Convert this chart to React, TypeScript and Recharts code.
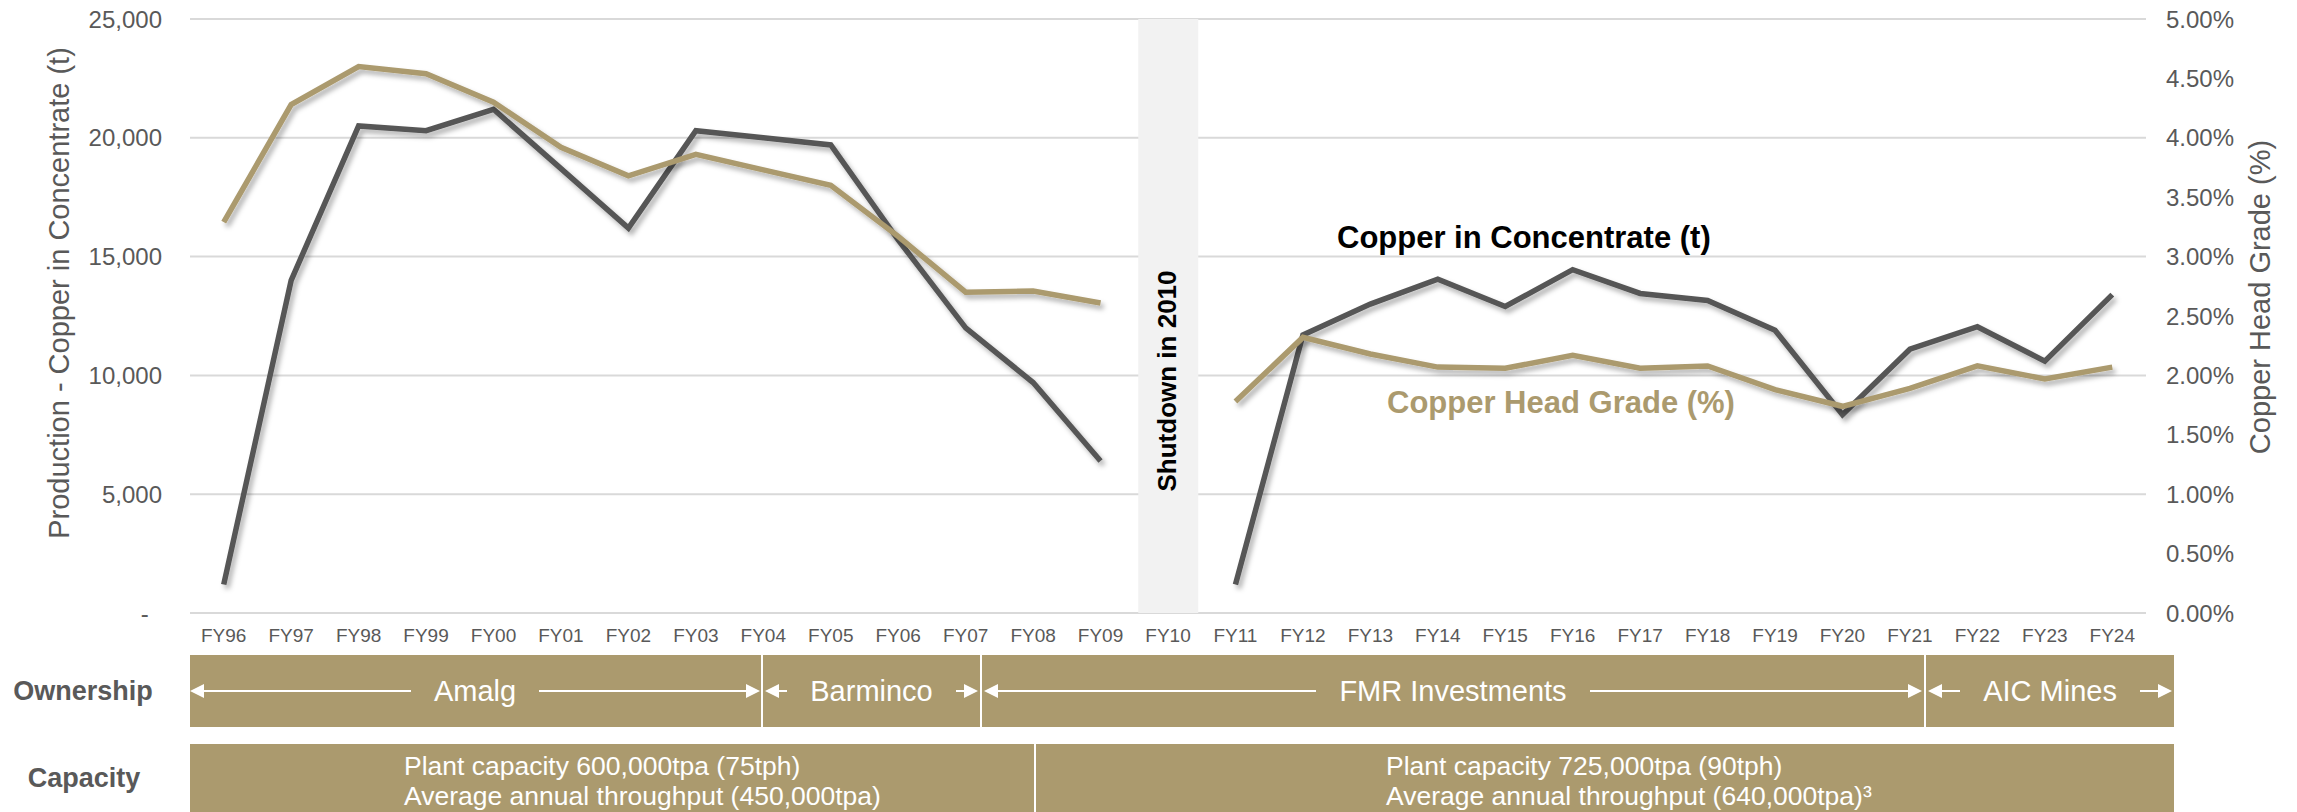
import { Bar, CartesianGrid, ComposedChart, Line, XAxis, YAxis } from "recharts";

// Copper production history, FY96–FY24 (plant shut in FY10)

const YEARS = [
  "FY96", "FY97", "FY98", "FY99", "FY00", "FY01", "FY02", "FY03", "FY04", "FY05",
  "FY06", "FY07", "FY08", "FY09", "FY10", "FY11", "FY12", "FY13", "FY14", "FY15",
  "FY16", "FY17", "FY18", "FY19", "FY20", "FY21", "FY22", "FY23", "FY24",
];

// tonnes of copper in concentrate
const COPPER_T = [
  1200, 14000, 20500, 20300, 21200, 18700, 16200, 20300, 20000, 19700,
  15700, 12000, 9700, 6400, null, 1200, 11700, 13000, 14050, 12900,
  14450, 13450, 13150, 11900, 8350, 11100, 12050, 10600, 13400,
];

// head grade, %
const HEAD_GRADE = [
  3.29, 4.28, 4.6, 4.54, 4.3, 3.92, 3.68, 3.86, 3.73, 3.6,
  3.17, 2.7, 2.71, 2.61, null, 1.78, 2.32, 2.18, 2.07, 2.06,
  2.17, 2.06, 2.08, 1.88, 1.74, 1.89, 2.08, 1.97, 2.07,
];

const SHUTDOWN_YEAR = "FY10";
const LEFT_TICKS = [0, 5000, 10000, 15000, 20000, 25000];
const RIGHT_TICKS = [0, 0.5, 1, 1.5, 2, 2.5, 3, 3.5, 4, 4.5, 5];

const OWNERS = ["Amalg", "Barminco", "FMR Investments", "AIC Mines"];
const OWNER_EDGES = [190, 761, 980, 1924, 2174];
const CAPACITY = [
  ["Plant capacity 600,000tpa (75tph)", "Average annual throughput (450,000tpa)"],
  ["Plant capacity 725,000tpa (90tph)", "Average annual throughput (640,000tpa)³"],
];
const CAPACITY_EDGES = [190, 1034, 2174];

const GREY = "#595959";
const DARK = "#565656";
const GOLD = "#AB9A6E";

const rows = YEARS.map((year, i) => ({
  year,
  copper: COPPER_T[i],
  grade: HEAD_GRADE[i],
  shutdown: year === SHUTDOWN_YEAR ? LEFT_TICKS[LEFT_TICKS.length - 1] : null,
}));

function Head({ dir }: { dir: "left" | "right" }) {
  return (
    <svg width={14} height={16} viewBox="0 0 14 16" style={{ flex: "none", display: "block" }}>
      <polygon points={dir === "left" ? "0,8 14,1 14,15" : "14,8 0,1 0,15"} fill="#fff" />
    </svg>
  );
}

function OwnerSegment({ label, left, right, first }: { label: string; left: number; right: number; first: boolean }) {
  return (
    <div
      style={{
        position: "absolute",
        left,
        width: right - left,
        top: 0,
        bottom: 0,
        display: "flex",
        alignItems: "center",
        boxSizing: "border-box",
        padding: first ? "0 1px 0 0" : "0 2px",
        borderLeft: first ? "none" : "2px solid #fff",
      }}
    >
      <Head dir="left" />
      <div style={{ flex: 1, height: 2, background: "#fff" }} />
      <span style={{ margin: "0 23px", fontSize: 29, color: "#fff", whiteSpace: "nowrap" }}>{label}</span>
      <div style={{ flex: 1, height: 2, background: "#fff" }} />
      <Head dir="right" />
    </div>
  );
}

export default function App() {
  return (
    <div
      style={{
        position: "absolute",
        left: 0,
        top: 0,
        width: 2297,
        height: 812,
        overflow: "hidden",
        background: "#fff",
        fontFamily: "'Liberation Sans', Arial, sans-serif",
      }}
    >
      <style>{`.recharts-line-curve{filter:url(#lineShadow)}`}</style>
      <svg width={0} height={0} style={{ position: "absolute" }}>
        <defs>
          <filter id="lineShadow" filterUnits="userSpaceOnUse" x={0} y={0} width={2297} height={812}>
            <feDropShadow dx={3} dy={4} stdDeviation={2.5} floodColor="#000" floodOpacity={0.3} />
          </filter>
        </defs>
      </svg>

      <ComposedChart width={2297} height={653} data={rows} margin={{ top: 19, right: 0, bottom: 0, left: 0 }}>
        <CartesianGrid yAxisId="t" vertical={false} stroke="#d9d9d9" strokeWidth={2} />
        <XAxis
          dataKey="year"
          interval={0}
          axisLine={false}
          tickLine={false}
          tickMargin={10}
          height={40}
          tick={{ fontSize: 19, fill: GREY }}
        />
        <YAxis
          yAxisId="t"
          width={190}
          domain={[0, 25000]}
          ticks={LEFT_TICKS}
          axisLine={false}
          tickLine={false}
          tickMargin={22}
          tick={{ fontSize: 24, fill: GREY }}
          tickFormatter={(v: number) => (v === 0 ? "-\u00a0\u00a0" : v.toLocaleString("en-US"))}
        />
        <YAxis
          yAxisId="pct"
          orientation="right"
          width={151}
          domain={[0, 5]}
          ticks={RIGHT_TICKS}
          axisLine={false}
          tickLine={false}
          tickMargin={14}
          tick={{ fontSize: 24, fill: GREY }}
          tickFormatter={(v: number) => `${v.toFixed(2)}%`}
        />
        <Bar yAxisId="t" dataKey="shutdown" barSize={60} fill="#f2f2f2" isAnimationActive={false} />
        <Line
          yAxisId="t"
          dataKey="copper"
          stroke={DARK}
          strokeWidth={5.5}
          dot={false}
          activeDot={false}
          isAnimationActive={false}
        />
        <Line
          yAxisId="pct"
          dataKey="grade"
          stroke={GOLD}
          strokeWidth={5.5}
          dot={false}
          activeDot={false}
          isAnimationActive={false}
        />
      </ComposedChart>

      {/* titles and in-chart annotations */}
      <svg width={2297} height={653} style={{ position: "absolute", left: 0, top: 0, pointerEvents: "none" }}>
        <text
          x={59}
          y={293}
          transform="rotate(-90 59 293)"
          textAnchor="middle"
          dominantBaseline="central"
          fontSize={29}
          fill={GREY}
        >
          Production - Copper in Concentrate (t)
        </text>
        <text
          x={2260}
          y={297}
          transform="rotate(-90 2260 297)"
          textAnchor="middle"
          dominantBaseline="central"
          fontSize={29}
          fill={GREY}
        >
          Copper Head Grade (%)
        </text>
        <text
          x={1167}
          y={381}
          transform="rotate(-90 1167 381)"
          textAnchor="middle"
          dominantBaseline="central"
          fontSize={26}
          fontWeight="bold"
          fill="#000"
        >
          Shutdown in 2010
        </text>
        <text x={1337} y={248} fontSize={31} fontWeight="bold" fill="#000">
          Copper in Concentrate (t)
        </text>
        <text x={1387} y={413} fontSize={31} fontWeight="bold" fill={GOLD}>
          Copper Head Grade (%)
        </text>
      </svg>

      {/* ownership strip */}
      <div style={{ position: "absolute", left: 0, width: 166, top: 655, height: 72, display: "flex", alignItems: "center", justifyContent: "center", fontSize: 27, fontWeight: "bold", color: GREY }}>
        Ownership
      </div>
      <div style={{ position: "absolute", left: 0, top: 655, width: 2297, height: 72 }}>
        <div style={{ position: "absolute", left: OWNER_EDGES[0], width: OWNER_EDGES[4] - OWNER_EDGES[0], top: 0, bottom: 0, background: GOLD }} />
        {OWNERS.map((o, i) => (
          <OwnerSegment key={o} label={o} left={OWNER_EDGES[i]} right={OWNER_EDGES[i + 1]} first={i === 0} />
        ))}
      </div>

      {/* capacity strip */}
      <div style={{ position: "absolute", left: 0, width: 168, top: 744, height: 68, display: "flex", alignItems: "center", justifyContent: "center", fontSize: 27, fontWeight: "bold", color: GREY }}>
        Capacity
      </div>
      {CAPACITY.map((lines, i) => (
        <div
          key={i}
          style={{
            position: "absolute",
            left: CAPACITY_EDGES[i],
            width: CAPACITY_EDGES[i + 1] - CAPACITY_EDGES[i],
            top: 744,
            height: 90,
            background: GOLD,
            boxSizing: "border-box",
            borderLeft: i === 0 ? "none" : "2px solid #fff",
          }}
        >
          <div
            style={{
              position: "absolute",
              left: i === 0 ? 214 : 350,
              top: 7,
              fontSize: 26.5,
              lineHeight: "30px",
              color: "#fff",
              whiteSpace: "nowrap",
            }}
          >
            {lines.map((l) => (
              <div key={l}>{l}</div>
            ))}
          </div>
        </div>
      ))}
    </div>
  );
}
